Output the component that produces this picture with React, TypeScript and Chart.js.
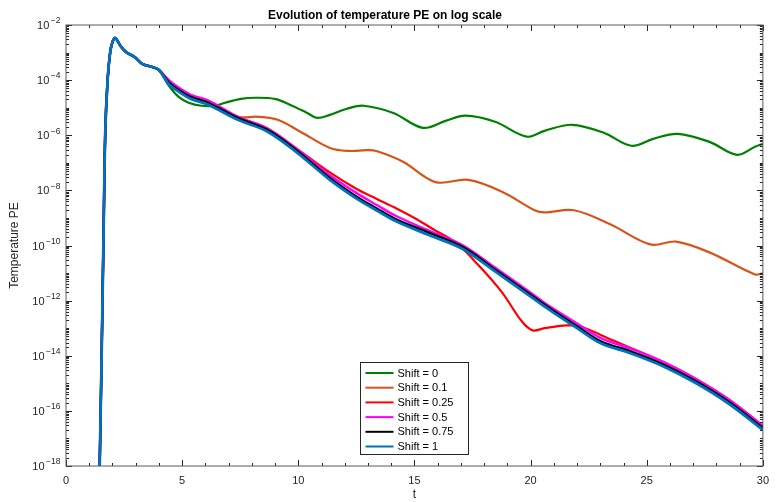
import React, { useEffect, useRef } from 'react';
import { Chart, registerables } from 'chart.js';

Chart.register(...registerables);

const FONT = '"Liberation Sans", Arial, Helvetica, sans-serif';
const AXIS_COLOR = '#262626';

const chartTitle = 'Evolution of temperature PE on log scale';
const xTitle = 't';
const yTitle = 'Temperature PE';

const seriesLabels = ['Shift = 0', 'Shift = 0.1', 'Shift = 0.25', 'Shift = 0.5', 'Shift = 0.75', 'Shift = 1'];
const seriesColors = ['#008000', '#D95319', '#FF0000', '#FF00FF', '#000000', '#0072BD'];
const seriesWidths = [2.2, 2.2, 2.2, 2.4, 2.4, 2.8];

// tick values
const xMajorTicks = [0, 5, 10, 15, 20, 25, 30];
const yTickExponents = [-18, -16, -14, -12, -10, -8, -6, -4, -2];

// shared initial burst, common to all runs (t, log10 of value)
const tRise = [1.41, 1.45, 1.53, 1.62, 1.69, 1.79, 1.9, 2.0, 2.12, 2.37, 2.6, 2.95, 3.3, 3.7, 4.0];
const logRise = [-20, -18, -14.2, -9.4, -5.9, -4.0, -3.0, -2.62, -2.47, -2.79, -2.99, -3.16, -3.42, -3.52, -3.63];

// Shift = 0
const tGreen = [4.43, 4.85, 5.28, 5.83, 6.43, 6.85, 7.53, 8.13, 8.98, 9.66, 10.38, 10.81, 11.36, 12.09, 12.81, 14.09, 15.36, 16.34, 17.19, 18.47, 19.83, 20.6, 21.79, 23.15, 24.34, 25.28, 26.34, 27.7, 28.89, 29.66, 30.0];
const logGreen = [-4.21, -4.61, -4.82, -4.93, -4.93, -4.82, -4.68, -4.64, -4.68, -4.9, -5.19, -5.37, -5.26, -5.04, -4.93, -5.19, -5.73, -5.48, -5.29, -5.51, -6.05, -5.84, -5.62, -5.91, -6.38, -6.13, -5.95, -6.24, -6.71, -6.42, -6.31];

// Shift = 0.1
const tOrange = [4.43, 4.85, 5.4, 6.13, 7.4, 8.26, 9.11, 10.09, 11.36, 12.21, 12.94, 13.36, 14.51, 15.91, 17.32, 18.77, 20.17, 20.6, 21.87, 23.45, 25.15, 26.26, 27.7, 29.66, 30.0];
const logOrange = [-4.05, -4.33, -4.6, -4.8, -5.33, -5.33, -5.44, -5.87, -6.46, -6.57, -6.54, -6.57, -6.96, -7.7, -7.62, -8.05, -8.72, -8.8, -8.72, -9.24, -9.96, -9.86, -10.25, -11.05, -11.01];

// Shift = 0.25
const tRed = [4.43, 4.85, 5.4, 6.13, 7.4, 8.68, 9.96, 11.36, 12.51, 13.36, 14.21, 15.0, 15.79, 16.77, 17.74, 18.77, 19.62, 20.09, 20.6, 21.57, 22.17, 23.57, 24.55, 25.7, 27.11, 28.55, 30.0];
const logRed = [-4.02, -4.3, -4.56, -4.76, -5.34, -5.76, -6.5, -7.35, -7.95, -8.3, -8.65, -9.0, -9.4, -9.89, -10.7, -11.7, -12.75, -13.08, -13.0, -12.9, -12.95, -13.45, -13.8, -14.22, -14.84, -15.6, -16.54];

// Shift = 0.5
const tMagenta = [4.43, 4.85, 5.4, 6.13, 7.4, 8.68, 9.96, 11.36, 12.51, 13.36, 14.21, 15.62, 17.06, 18.47, 19.87, 20.72, 22.0, 23.02, 24.3, 25.7, 27.11, 28.55, 30.0];
const logMagenta = [-4.0, -4.27, -4.54, -4.74, -5.33, -5.76, -6.52, -7.45, -8.1, -8.52, -8.93, -9.46, -9.98, -10.8, -11.63, -12.15, -12.83, -13.36, -13.74, -14.22, -14.84, -15.6, -16.54];

// Shift = 0.75
const tBlack = [4.43, 4.85, 5.4, 6.13, 7.4, 8.68, 9.96, 11.36, 12.51, 13.36, 14.21, 15.62, 17.06, 18.47, 19.87, 20.72, 22.0, 23.02, 24.3, 25.7, 27.11, 28.55, 30.0];
const logBlack = [-4.08, -4.35, -4.62, -4.82, -5.37, -5.8, -6.57, -7.55, -8.23, -8.65, -9.05, -9.53, -10.04, -10.87, -11.7, -12.21, -12.93, -13.48, -13.84, -14.31, -14.92, -15.68, -16.62];

// Shift = 1
const tBlue = [4.43, 4.85, 5.4, 6.13, 7.4, 8.68, 9.96, 11.36, 12.51, 13.36, 14.21, 15.62, 17.06, 18.47, 19.87, 20.72, 22.0, 23.02, 24.3, 25.7, 27.11, 28.55, 30.0];
const logBlue = [-4.15, -4.42, -4.69, -4.89, -5.44, -5.87, -6.64, -7.62, -8.3, -8.72, -9.12, -9.62, -10.12, -10.94, -11.77, -12.28, -13.0, -13.55, -13.91, -14.38, -14.99, -15.75, -16.69];

const seriesT = [tGreen, tOrange, tRed, tMagenta, tBlack, tBlue];
const seriesLog = [logGreen, logOrange, logRed, logMagenta, logBlack, logBlue];

const toPoints = (ts: number[], logs: number[]) => ts.map((t, i) => ({ x: t, y: Math.pow(10, logs[i]) }));

const decorPlugin = {
  id: 'decor',
  afterDraw(chart: any) {
    const { ctx, chartArea: a } = chart;
    const xs = chart.scales.x;
    const ys = chart.scales.y;
    ctx.save();

    // inward tick marks on all four sides
    ctx.strokeStyle = AXIS_COLOR;
    ctx.lineWidth = 1;
    ctx.beginPath();
    for (let t = 0; t <= 30; t++) {
      const px = Math.round(xs.getPixelForValue(t)) + 0.5;
      const len = t % 5 === 0 ? 6 : 3;
      ctx.moveTo(px, a.bottom);
      ctx.lineTo(px, a.bottom - len);
      ctx.moveTo(px, a.top);
      ctx.lineTo(px, a.top + len);
    }
    for (let e = -18; e <= -2; e++) {
      for (let m = 1; m <= 9; m++) {
        if (e === -2 && m > 1) break;
        const py = Math.round(ys.getPixelForValue(m * Math.pow(10, e))) + 0.5;
        const len = m === 1 && Math.abs(e) % 2 === 0 ? 6 : 3;
        ctx.moveTo(a.left, py);
        ctx.lineTo(a.left + len, py);
        ctx.moveTo(a.right, py);
        ctx.lineTo(a.right - len, py);
      }
    }
    ctx.stroke();

    // frame
    ctx.strokeStyle = '#5a5a5a';
    ctx.lineWidth = 1;
    ctx.strokeRect(a.left, a.top, a.right - a.left, a.bottom - a.top);

    // y tick labels with superscript exponents
    ctx.fillStyle = AXIS_COLOR;
    ctx.textBaseline = 'middle';
    ctx.textAlign = 'right';
    yTickExponents.forEach((e) => {
      const py = ys.getPixelForValue(Math.pow(10, e));
      const expText = '\u2212' + Math.abs(e);
      ctx.font = `8.5px ${FONT}`;
      const ew = ctx.measureText(expText).width;
      const right = a.left - 5.5;
      ctx.fillText(expText, right, py - 4);
      ctx.font = `11px ${FONT}`;
      ctx.fillText('10', right - ew - 1.5, py + 1);
    });

    // legend (inside, bottom centre)
    const datasets = chart.data.datasets;
    const w = 108;
    const h = 92;
    const cx = (a.left + a.right) / 2;
    const lx = Math.round(cx - w / 2) + 0.5;
    const ty = Math.round(a.bottom - 12 - h) + 0.5;
    ctx.fillStyle = '#ffffff';
    ctx.fillRect(lx, ty, w, h);
    ctx.strokeStyle = AXIS_COLOR;
    ctx.lineWidth = 1;
    ctx.strokeRect(lx, ty, w, h);
    ctx.textAlign = 'left';
    ctx.textBaseline = 'middle';
    ctx.font = `11px ${FONT}`;
    datasets.forEach((ds: any, i: number) => {
      const yy = ty + 10.5 + i * 14.7;
      ctx.strokeStyle = ds.borderColor;
      ctx.lineWidth = 2;
      ctx.beginPath();
      ctx.moveTo(lx + 5, yy);
      ctx.lineTo(lx + 33, yy);
      ctx.stroke();
      ctx.fillStyle = '#000000';
      ctx.fillText(ds.label, lx + 37, yy + 0.5);
    });

    ctx.restore();
  },
};

export default function App() {
  const canvasRef = useRef<HTMLCanvasElement | null>(null);

  useEffect(() => {
    const canvas = canvasRef.current;
    if (!canvas) return;
    const rise = toPoints(tRise, logRise);
    const datasets = seriesLabels.map((label, i) => ({
      label,
      data: [...rise, ...toPoints(seriesT[i], seriesLog[i])],
      borderColor: seriesColors[i],
      backgroundColor: seriesColors[i],
      borderWidth: seriesWidths[i],
      pointRadius: 0,
      fill: false,
      tension: 0.35,
      order: seriesLabels.length - 1 - i,
    }));

    const chart = new Chart(canvas, {
      type: 'line',
      data: { datasets },
      options: {
        animation: false,
        responsive: false,
        maintainAspectRatio: false,
        parsing: false,
        layout: { padding: { left: 0, right: 7, top: 0, bottom: 0 } },
        font: { family: FONT },
        plugins: {
          legend: { display: false },
          tooltip: { enabled: false },
          title: {
            display: true,
            text: chartTitle,
            color: '#000000',
            font: { family: FONT, size: 12, weight: 'bold' },
            padding: { top: 8, bottom: 2.6 },
          },
        },
        scales: {
          x: {
            type: 'linear',
            min: 0,
            max: 30,
            afterFit: (s: any) => {
              s.height = 36;
            },
            grid: { display: false, drawTicks: false },
            border: { display: false },
            afterBuildTicks: (s: any) => {
              s.ticks = xMajorTicks.map((v) => ({ value: v }));
            },
            ticks: {
              color: AXIS_COLOR,
              font: { family: FONT, size: 11 },
              padding: 8,
              maxRotation: 0,
              autoSkip: false,
            },
            title: {
              display: true,
              text: xTitle,
              color: AXIS_COLOR,
              font: { family: FONT, size: 12 },
              padding: { top: 0, bottom: 0 },
            },
          },
          y: {
            type: 'logarithmic',
            min: 1e-18,
            max: 1e-2,
            afterFit: (s: any) => {
              s.width = 66;
            },
            grid: { display: false, drawTicks: false },
            border: { display: false },
            ticks: { display: false },
            title: {
              display: true,
              text: yTitle,
              color: AXIS_COLOR,
              font: { family: FONT, size: 12 },
              padding: { top: 7, bottom: 0 },
            },
          },
        },
      } as any,
      plugins: [decorPlugin],
    });
    return () => chart.destroy();
  }, []);

  return (
    <div style={{ position: 'fixed', left: 0, top: 0, width: 777, height: 502, background: '#ffffff' }}>
      <canvas ref={canvasRef} width={777} height={502} style={{ display: 'block', width: 777, height: 502 }} />
    </div>
  );
}
